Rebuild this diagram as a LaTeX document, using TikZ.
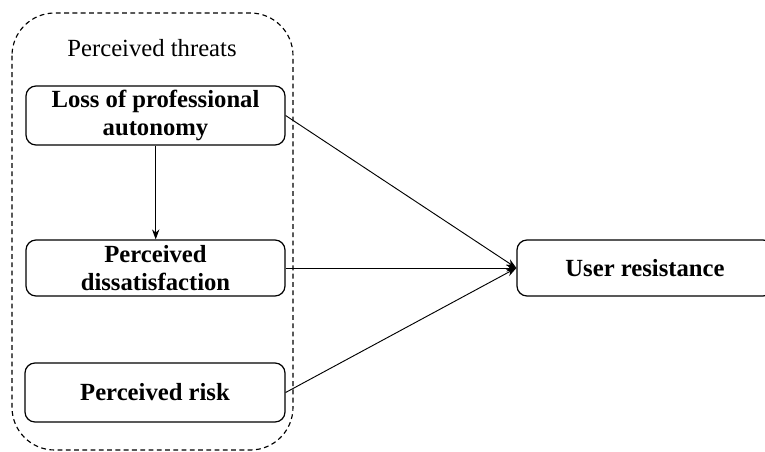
\documentclass[tikz,border=0pt]{standalone}
\usepackage{fontspec}
\setmainfont{Liberation Serif}
\usetikzlibrary{arrows.meta}
\begin{document}
\begin{tikzpicture}[x=0.75pt,y=-0.75pt,
  construct/.style={draw, rounded corners=7.5pt, line width=0.9pt,
    align=center, font=\fontsize{18.5}{21}\selectfont\bfseries, inner sep=0pt},
  link/.style={line width=0.7pt, -{Stealth[length=7.5pt,width=5.5pt]}},
  group/.style={draw, dash pattern=on 3.6pt off 2.6pt, line width=0.85pt, rounded corners=32pt}]
  \useasboundingbox (0,0) rectangle (765,451);
  \clip (0,0) rectangle (765,451);

  % dashed grouping of the threat constructs
  \draw[group] (12,13) rectangle (293,450);
  \node[font=\fontsize{18.5}{21}\selectfont] (title) at (152,48) {Perceived threats};

  % constructs
  \node[construct, minimum width=194.25pt, minimum height=44.25pt] (loss) at (155.5,115.5)
    {Loss of professional\\autonomy};
  \node[construct, minimum width=194.25pt, minimum height=42pt] (diss) at (155.5,268)
    {Perceived\\dissatisfaction};
  \node[construct, minimum width=195pt, minimum height=44.25pt] (risk) at (155,392.5)
    {Perceived risk};
  \node[construct, minimum width=192pt, minimum height=42pt] (res) at (645,268)
    {User resistance};

  % paths
  \draw[link] (loss.south -| 155.7,0) -- (diss.north -| 155.7,0);
  \draw[link] (loss.east) -- (res.west);
  \draw[link] (diss.east) -- (res.west);
  \draw[link] (risk.east) -- (res.west);
\end{tikzpicture}
\end{document}
